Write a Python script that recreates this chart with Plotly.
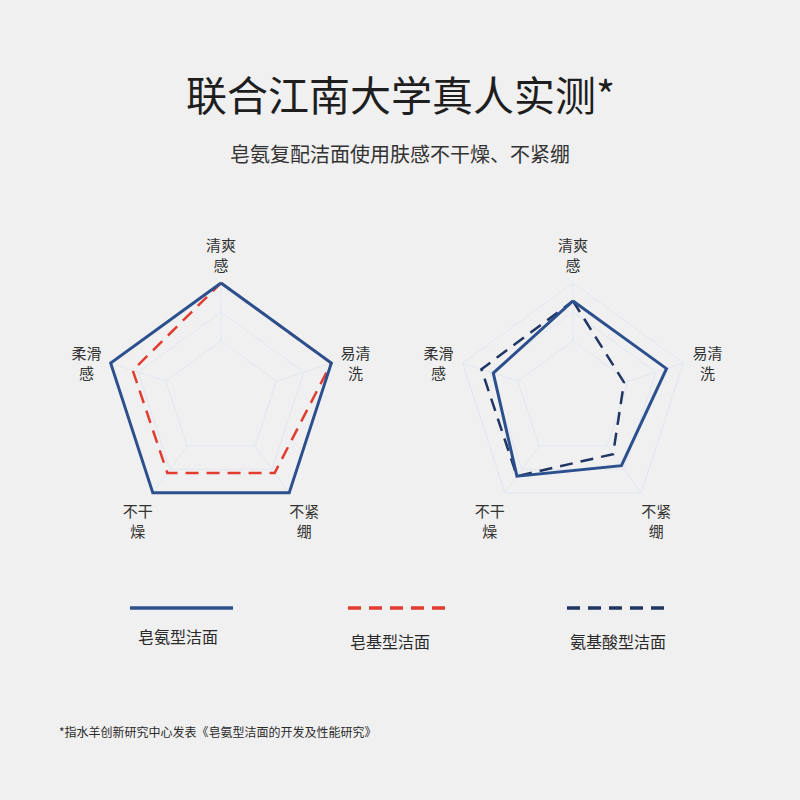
import plotly.graph_objects as go

# 数据
cat_keys = ["清爽感", "易清洗", "不紧绷", "不干燥", "柔滑感"]
cat_labels = ["清爽<br>感", "易清<br>洗", "不紧<br>绷", "不干<br>燥", "柔滑<br>感"]

# 左图：皂氨型 vs 皂基型
left_zaoan = [5.0, 5.0, 5.0, 5.0, 5.0]
left_zaoji = [5.0, 5.0, 4.15, 4.15, 4.2]
# 右图：皂氨型 vs 氨基酸型
right_zaoan = [4.38, 4.39, 3.84, 4.29, 3.89]
right_anjisuan = [4.38, 2.85, 3.35, 4.29, 4.32]

series_names = ["皂氨型洁面", "皂基型洁面", "氨基酸型洁面"]

R_MIN, R_MAX = 1, 5
R_PAD = 6.0           # 轴范围放大，外圈以外留给维度名称
LABEL_R = 5.88
GRID_LEVELS = [3, 4, 5]

BLUE = "#2c4f8e"
RED = "#e23b30"
NAVY = "#1f3562"
GRID = "#e1e7f1"
FONT = "Noto Sans CJK SC"

W = H = 800
CENTERS = [(221, 399), (573, 399)]
R_PX = 116 * (R_PAD - R_MIN) / (R_MAX - R_MIN)


def closed(vals):
    return vals + vals[:1]


def domain(cx, cy):
    return dict(x=[(cx - R_PX) / W, (cx + R_PX) / W],
                y=[(H - cy - R_PX) / H, (H - cy + R_PX) / H])


theta = closed(cat_keys)

# 除顶部外，其余名称整体下移半行
label_text = [cat_labels[0]] + ["\u00a0<br>" + t for t in cat_labels[1:]]

# 辐射线只画在内圈以外
spoke_r, spoke_t = [], []
for c in cat_keys:
    spoke_r += [GRID_LEVELS[0], R_MAX, None]
    spoke_t += [c, c, None]

fig = go.Figure()

for sp in ["polar", "polar2"]:
    fig.add_trace(go.Scatterpolar(r=spoke_r, theta=spoke_t, mode="lines",
                                  line=dict(color=GRID, width=1), hoverinfo="skip",
                                  subplot=sp, showlegend=False))
    fig.add_trace(go.Scatterpolar(r=[LABEL_R] * len(cat_keys), theta=cat_keys,
                                  mode="text", text=label_text, textposition="middle center",
                                  textfont=dict(family=FONT, size=15, color="#333333"),
                                  cliponaxis=False, hoverinfo="skip",
                                  subplot=sp, showlegend=False))

fig.add_trace(go.Scatterpolar(r=closed(left_zaoji), theta=theta, mode="lines",
                              line=dict(color=RED, width=2.5, dash="13px,8px"),
                              subplot="polar", name=series_names[1]))
fig.add_trace(go.Scatterpolar(r=closed(left_zaoan), theta=theta, mode="lines",
                              line=dict(color=BLUE, width=3),
                              subplot="polar", name=series_names[0]))
fig.add_trace(go.Scatterpolar(r=closed(right_anjisuan), theta=theta, mode="lines",
                              line=dict(color=NAVY, width=2.5, dash="13px,8px"),
                              subplot="polar2", name=series_names[2]))
fig.add_trace(go.Scatterpolar(r=closed(right_zaoan), theta=theta, mode="lines",
                              line=dict(color=BLUE, width=3),
                              subplot="polar2", name=series_names[0]))

polar_style = dict(
    bgcolor="rgba(0,0,0,0)",
    gridshape="linear",
    radialaxis=dict(range=[R_MIN, R_PAD], tickvals=GRID_LEVELS, showticklabels=False,
                    ticks="", showline=False, gridcolor=GRID, gridwidth=1,
                    layer="below traces"),
    angularaxis=dict(rotation=90, direction="clockwise", type="category",
                     categoryarray=cat_keys,
                     showticklabels=False, showline=False, showgrid=False,
                     ticks="", layer="below traces"),
)

fig.update_layout(
    width=W, height=H,
    margin=dict(l=0, r=0, t=0, b=0),
    paper_bgcolor="#f0f0f0",
    plot_bgcolor="#f0f0f0",
    showlegend=False,
    polar=dict(domain=domain(*CENTERS[0]), **polar_style),
    polar2=dict(domain=domain(*CENTERS[1]), **polar_style),
)

# 标题
fig.add_annotation(text="联合江南大学真人实测*", x=0.5, y=1 - 93 / H, xref="paper", yref="paper",
                   yanchor="middle", showarrow=False,
                   font=dict(family=FONT, size=41, color="#1e1e1e"))
fig.add_annotation(text="皂氨复配洁面使用肤感不干燥、不紧绷", x=0.5, y=1 - 153 / H,
                   xref="paper", yref="paper", yanchor="middle", showarrow=False,
                   font=dict(family=FONT, size=20, color="#333333"))

# 图例（线段 + 文字）
legend_x = [(130, 233), (348, 451), (567, 670)]
legend_text_pos = [(178, 636), (390, 641), (618, 641)]
legend_lines = [dict(color=BLUE, width=3.5, dash="solid"),
                dict(color=RED, width=3.5, dash="13px,8px"),
                dict(color=NAVY, width=3.5, dash="13px,8px")]
for (x0, x1), (tx, ty), ln, name in zip(legend_x, legend_text_pos, legend_lines, series_names):
    fig.add_shape(type="line", xref="paper", yref="paper",
                  x0=x0 / W, x1=x1 / W, y0=1 - 608 / H, y1=1 - 608 / H,
                  line=ln)
    fig.add_annotation(text=name, x=tx / W, y=1 - ty / H, xref="paper", yref="paper",
                       xanchor="center", yanchor="middle", showarrow=False,
                       font=dict(family=FONT, size=16, color="#2a2a2a"))

# 脚注
fig.add_annotation(text="*指水羊创新研究中心发表《皂氨型洁面的开发及性能研究》",
                   x=57 / W, y=1 - 731 / H, xref="paper", yref="paper",
                   xanchor="left", yanchor="middle", showarrow=False,
                   font=dict(family=FONT, size=12, color="#2a2a2a"))

fig.write_html("out.html", config={"displayModeBar": False},
               post_script="document.body.style.margin='0';document.body.style.overflow='hidden';")
